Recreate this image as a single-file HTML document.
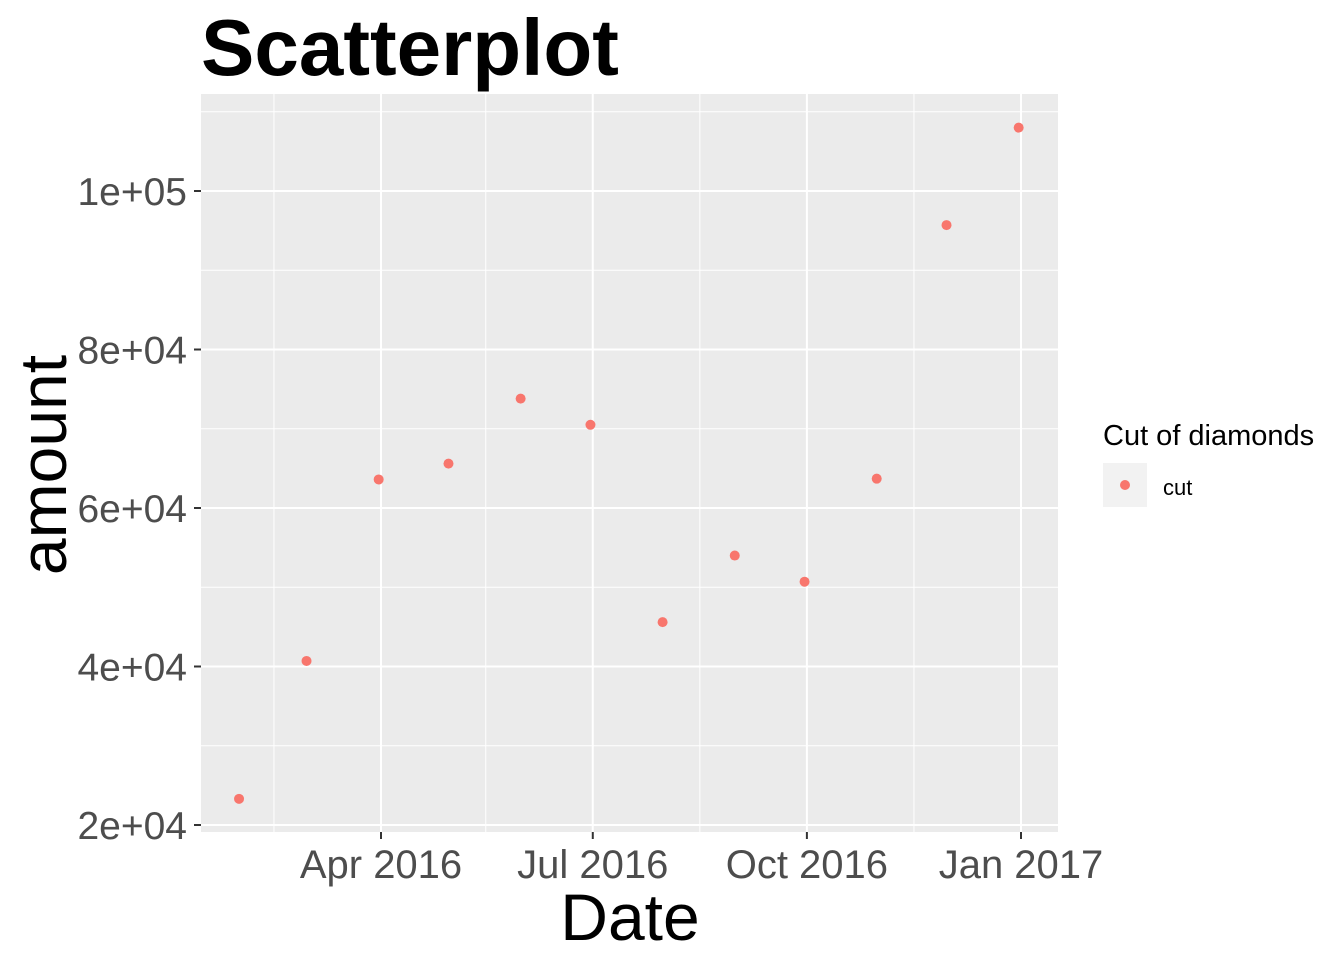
<!DOCTYPE html>
<html><head><meta charset="utf-8"><style>
body{margin:0;background:#fff;font-family:"Liberation Sans",Arial,sans-serif}
</style></head><body>
<svg id="chart" width="1344" height="960" xmlns="http://www.w3.org/2000/svg">
<text x="201" y="75" font-size="80" font-weight="bold" fill="#000">Scatterplot</text>
<rect x="201" y="94" width="857" height="738" fill="#EBEBEB"/>
<g id="grid"></g><g id="points"></g><g id="axes"></g>
<text x="630" y="940" font-size="66" text-anchor="middle" fill="#000">Date</text>
<text transform="translate(66,465) rotate(-90)" font-size="66" text-anchor="middle" fill="#000">amount</text>
<g>
<text x="1103" y="445" font-size="29" fill="#000">Cut of diamonds</text>
<rect x="1103" y="463" width="44" height="44" fill="#F2F2F2"/>
<circle cx="1125" cy="485" r="5" fill="#F8766D"/>
<text x="1163" y="495" font-size="22" fill="#000">cut</text>
</g>
</svg>
<script>
const dates=["2016-01-31","2016-02-29","2016-03-31","2016-04-30","2016-05-31","2016-06-30","2016-07-31","2016-08-31","2016-09-30","2016-10-31","2016-11-30","2016-12-31"];
const amounts=[23300,40700,63600,65600,73800,70500,45600,54000,50700,63700,95700,108000];
const yTicks=[20000,40000,60000,80000,100000];
const yTickLabels=["2e+04","4e+04","6e+04","8e+04","1e+05"];
const xTicks=["2016-04-01","2016-07-01","2016-10-01","2017-01-01"];
const xTickLabels=["Apr 2016","Jul 2016","Oct 2016","Jan 2017"];
const xMinor=["2016-02-15","2016-05-16","2016-08-16","2016-11-16"];
const yMinor=[30000,50000,70000,90000,110000];
const NS="http://www.w3.org/2000/svg";
const day=s=>Date.parse(s)/86400000;
const d0=day("2016-04-01"),d1=day("2017-01-01");
const X=s=>381+(day(s)-d0)*(1021-381)/(d1-d0);
const Y=v=>825-(v-20000)*(825-191)/80000;
function mk(p,t,a){const e=document.createElementNS(NS,t);for(const k in a)e.setAttribute(k,a[k]);p.appendChild(e);return e;}
const g=document.getElementById('grid'),pt=document.getElementById('points'),ax=document.getElementById('axes');
yMinor.forEach(v=>{const l=mk(g,'line',{x1:201,x2:1058,y1:Y(v),y2:Y(v),stroke:'#fff','stroke-width':1});

});
xMinor.forEach(s=>{const l=mk(g,'line',{x1:X(s),x2:X(s),y1:94,y2:832,stroke:'#fff','stroke-width':1});

});
yTicks.forEach((v,i)=>{const y=Y(v);
const l=mk(g,'line',{x1:201,x2:1058,y1:y,y2:y,stroke:'#fff','stroke-width':2});


const t=mk(ax,'line',{x1:194,x2:201,y1:y,y2:y,stroke:'#333','stroke-width':2});


const tx=mk(ax,'text',{x:187,y:y+14,'font-size':39,'text-anchor':'end',fill:'#4D4D4D'});tx.textContent=yTickLabels[i];

});
xTicks.forEach((s,i)=>{const x=X(s);
const l=mk(g,'line',{x1:x,x2:x,y1:94,y2:832,stroke:'#fff','stroke-width':2});


const t=mk(ax,'line',{x1:x,x2:x,y1:832,y2:839,stroke:'#333','stroke-width':2});


const tx=mk(ax,'text',{x:x,y:878,'font-size':40,'text-anchor':'middle',fill:'#4D4D4D'});tx.textContent=xTickLabels[i];

});
dates.forEach((s,i)=>{const c=mk(pt,'circle',{cx:X(s),cy:Y(amounts[i]),r:5,fill:'#F8766D'});

});
</script>
</body></html>
